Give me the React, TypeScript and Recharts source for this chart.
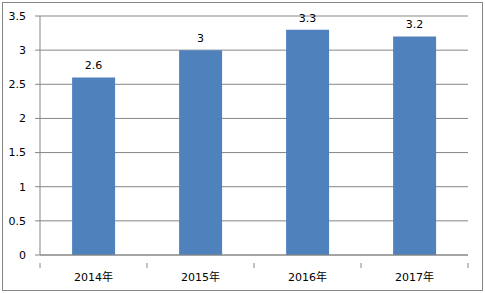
import React from "react";
import { BarChart, Bar, XAxis, YAxis, CartesianGrid, LabelList } from "recharts";

const years = ["2014年", "2015年", "2016年", "2017年"];
const values = [2.6, 3, 3.3, 3.2];
const yTicks = [0, 0.5, 1, 1.5, 2, 2.5, 3, 3.5];

const data = years.map((year, i) => ({ year, value: values[i] }));

const FONT = "'DejaVu Sans', 'Noto Sans CJK SC', sans-serif";
const AXIS = "#868686";
const BAND = 107;

// category label centred, tick mark on the left boundary (and the right end for the last one)
function CategoryTick(props: any) {
  const { x, y, payload, index } = props;
  const left = x - BAND / 2;
  const right = x + BAND / 2;
  return (
    <g>
      <line x1={left} y1={y} x2={left} y2={y + 5} stroke={AXIS} />
      {index === years.length - 1 && (
        <line x1={right} y1={y} x2={right} y2={y + 5} stroke={AXIS} />
      )}
      <text
        x={x}
        y={y + 18}
        textAnchor="middle"
        fontSize={11}
        fontFamily={FONT}
        fill="#000"
      >
        {payload.value}
      </text>
    </g>
  );
}

export default function App() {
  return (
    <div
      style={{
        position: "absolute",
        left: 0,
        top: 0,
        width: 485,
        height: 293,
        background: "#fff",
      }}
    >
      <div
        style={{
          position: "absolute",
          left: 2,
          top: 2,
          width: 479,
          height: 287,
          border: `1px solid ${AXIS}`,
        }}
      />
      <div style={{ position: "absolute", left: 0, top: 0 }}>
        <BarChart
          width={485}
          height={293}
          data={data}
          margin={{ top: 16, right: 17, bottom: 8, left: 0 }}
          barCategoryGap="30%"
        >
          <CartesianGrid vertical={false} stroke={AXIS} strokeWidth={1} />
          <XAxis
            dataKey="year"
            stroke={AXIS}
            tickLine={false}
            height={30}
            tick={<CategoryTick />}
            interval={0}
          />
          <YAxis
            domain={[0, 3.5]}
            ticks={yTicks}
            width={40}
            stroke={AXIS}
            tickSize={5}
            tickMargin={9}
            tick={{ fill: "#000", fontSize: 11, fontFamily: FONT }}
          />
          <Bar dataKey="value" fill="#4F81BD" isAnimationActive={false}>
            <LabelList
              dataKey="value"
              position="top"
              offset={8}
              fill="#000"
              fontSize={11}
              fontFamily={FONT}
            />
          </Bar>
        </BarChart>
      </div>
    </div>
  );
}
